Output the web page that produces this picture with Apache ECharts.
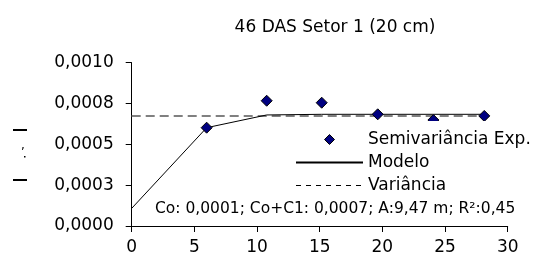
<!DOCTYPE html>
<html>
<head>
<meta charset="utf-8">
<script src="https://cdn.jsdelivr.net/npm/echarts@6/dist/echarts.min.js"></script>
<style>
	html, body { margin: 0; padding: 0; background: #fff; }
	#main { width: 539px; height: 269px; }
</style>
</head>
<body>
<div id="main"></div>
<script>
	// dados
	const titulo = '46 DAS Setor 1 (20 cm)'
	const lagX = [5.98, 10.77, 15.16, 19.63, 24.07, 28.13]
	const semivar = [0.000602, 0.000767, 0.000755, 0.000684, 0.000649, 0.000674]
	const modeloX = [0, 5.98, 10.77, 15.16, 19.63, 24.07, 28.13]
	const modeloY = [0.000108, 0.000602, 0.000680, 0.000684, 0.000684, 0.000684, 0.000684]
	const varianciaX = [0, 28.13]
	const varianciaY = [0.000674, 0.000674]
	const yTickLabels = ['0,0000', '0,0003', '0,0005', '0,0008', '0,0010']
	const anotacao = 'Co: 0,0001; Co+C1: 0,0007; A:9,47 m; R²:0,45'

	const pares = (xs, ys) => xs.map((x, i) => [x, ys[i]])
	const fonte = '"DejaVu Sans", sans-serif'
	// losango centrado numa caixa larga, para a legenda nao esticar o simbolo
	const iconeLosango = 'path://M0,5L0,5M28.5,5L33.5,0L38.5,5L33.5,10ZM67,5L67,5'

	let chart = echarts.init(document.getElementById('main'))
	const option = {
		animation: false,
		title: {
			text: titulo,
			left: 330,
			textAlign: 'center',
			top: 14,
			textStyle: { fontFamily: fonte, fontSize: 17, fontWeight: 'normal', color: '#000' }
		},
		grid: { left: 131.7, right: 31.3, top: 62.7, bottom: 43 },
		xAxis: {
			type: 'value',
			min: 0,
			max: 30,
			interval: 5,
			splitLine: { show: false },
			axisLine: { lineStyle: { color: '#000' } },
			axisTick: { length: 6, lineStyle: { color: '#000' } },
			axisLabel: { margin: 13, color: '#000', fontFamily: fonte, fontSize: 17 }
		},
		yAxis: {
			type: 'value',
			min: 0,
			max: 0.001,
			interval: 0.00025,
			splitLine: { show: false },
			axisLine: { show: true, lineStyle: { color: '#000' } },
			axisTick: { show: true, length: 6, lineStyle: { color: '#000' } },
			axisLabel: {
				margin: 18,
				color: '#000',
				fontFamily: fonte,
				fontSize: 17,
				formatter: v => yTickLabels[Math.round(v / 0.00025)]
			}
		},
		legend: {
			orient: 'vertical',
			left: 292,
			top: 121,
			itemWidth: 67,
			itemHeight: 10,
			itemGap: 6,
			padding: [10, 4, 2, 3],
			backgroundColor: '#fff',
			z: 10,
			textStyle: { fontFamily: fonte, fontSize: 17, color: '#000' },
			data: [
				{
					name: 'Semivariância Exp.',
					icon: iconeLosango,
					itemStyle: { color: '#000080', borderColor: '#000', borderWidth: 1 }
				},
				{ name: 'Modelo', itemStyle: { opacity: 0 } },
				{ name: 'Variância', itemStyle: { opacity: 0 }, lineStyle: { color: '#000', width: 1, type: [5, 5] } }
			]
		},
		graphic: [
			{
				type: 'text',
				left: 155,
				top: 201,
				z: 20,
				style: { text: anotacao, font: '15.5px ' + fonte, fill: '#000' }
			},
			// restos do título do eixo Y (cortado no original)
			{ type: 'rect', shape: { x: 13, y: 129, width: 14, height: 2 }, style: { fill: '#000' } },
			{ type: 'rect', shape: { x: 13, y: 179, width: 14, height: 2 }, style: { fill: '#000' } },
			{ type: 'text', x: 21, y: 140, style: { text: ',', font: '12px ' + fonte, fill: '#000' } },
			{ type: 'rect', shape: { x: 24, y: 156, width: 1.5, height: 1.5 }, style: { fill: '#000' } }
		],
		series: [
			{
				name: 'Variância',
				type: 'line',
				data: pares(varianciaX, varianciaY),
				symbol: 'none',
				lineStyle: { color: '#808080', width: 2, type: [9, 5] },
				z: 1
			},
			{
				name: 'Modelo',
				type: 'line',
				data: pares(modeloX, modeloY),
				symbol: 'none',
				lineStyle: { color: '#000', width: 1 },
				z: 2
			},
			{
				name: 'Semivariância Exp.',
				type: 'scatter',
				data: pares(lagX, semivar),
				symbol: 'diamond',
				symbolSize: 11,
				itemStyle: { color: '#000080', borderColor: '#000', borderWidth: 1, opacity: 1 },
				z: 3
			}
		]
	}
	chart.setOption(option)
</script>
</body>
</html>
